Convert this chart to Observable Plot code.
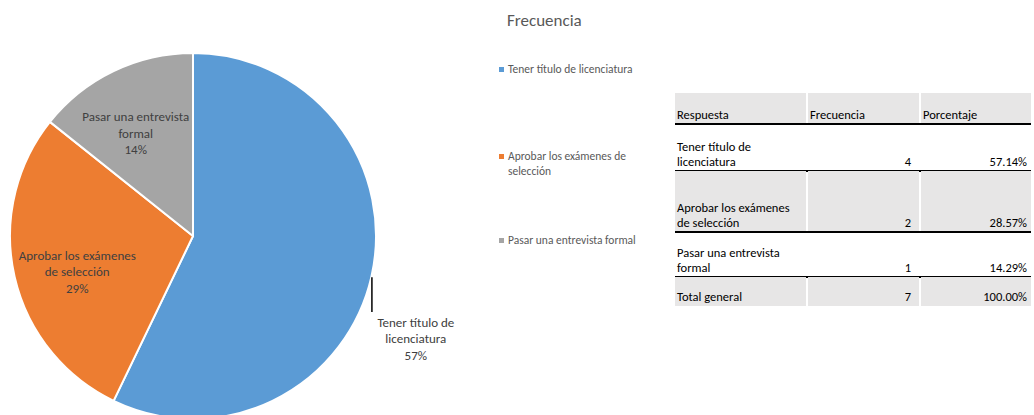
<!DOCTYPE html>
<html>
<head>
<meta charset="utf-8">
<script src="https://cdn.jsdelivr.net/npm/d3@7"></script>
<script src="https://cdn.jsdelivr.net/npm/@observablehq/plot@0.6"></script>
<style>
  body { margin: 0; background: #fff; font-family: Calibri, Carlito, Lato, sans-serif; }
  #wrap { position: relative; width: 1034px; height: 415px; overflow: hidden; background: #fff; }
  #chart { position: absolute; left: 0; top: 0; }
  #title { position: absolute; left: 507px; top: 10px; font-size: 17px; line-height: 22px; color: #595959; }
  .item { position: absolute; left: 499px; display: flex; font-size: 11.5px; line-height: 15px; color: #595959; white-space: pre; }
  .sw { width: 5px; height: 5px; margin: 5px 4px 0 0; flex: none; }
  .cell { position: absolute; box-sizing: border-box; font-size: 12.5px; line-height: 15px; color: #000;
          display: flex; flex-direction: column; justify-content: flex-end; padding-bottom: 2px; white-space: pre; }
  .gray { background: #e7e6e6; }
  .rule { position: absolute; height: 1.5px; background: #000; }
</style>
</head>
<body>
<div id="wrap">
  <div id="chart"></div>
  <div id="title"></div>
  <div id="legend"></div>
  <div id="table"></div>
</div>
<script>
// ---- data ----
const categories = ["Tener título de licenciatura", "Aprobar los exámenes de selección", "Pasar una entrevista formal"];
const frequencies = [4, 2, 1];
const colors = ["#5b9bd5", "#ed7d31", "#a5a5a5"];
const chartTitle = "Frecuencia";
const tableHeaders = ["Respuesta", "Frecuencia", "Porcentaje"];
const totalLabel = "Total general";

// ---- helpers ----
function wrap(text, maxChars) {
  const words = text.split(" ");
  const lines = [];
  let cur = "";
  for (const w of words) {
    if (cur && (cur + " " + w).length > maxChars) { lines.push(cur); cur = w; }
    else cur = cur ? cur + " " + w : w;
  }
  if (cur) lines.push(cur);
  return lines.join("\n");
}

const total = d3.sum(frequencies);
const data = categories.map((c, i) => ({category: c, value: frequencies[i], share: frequencies[i] / total, color: colors[i]}));
const arcs = d3.pie().value(d => d.value).sort(null)(data);

// label placement: inside slices except the largest, which gets an outside label with a leader
const labels = arcs.map((a, i) => {
  const mid = (a.startAngle + a.endAngle) / 2;
  const sx = Math.sin(mid), sy = Math.cos(mid);
  const pct = Math.round(a.data.share * 100) + "%";
  const text = wrap(a.data.category, 20) + "\n" + pct;
  if (i === 0) {
    const x1 = sx, y1 = sy, x2 = sx, y2 = sy - 0.19;
    return {text, x: x2 + 0.24, y: y2 - 0.02, x1, y1, x2, y2, outside: true};
  }
  const r = 0.66;
  const lm = mid - 0.05; // label angle slightly toward the slice's wider side
  return {text, x: Math.sin(lm) * r, y: Math.cos(lm) * r, outside: false};
});

function slices(index, scales) {
  const x = scales.x, y = scales.y;
  const cx = x(0), cy = y(0), r = x(1) - x(0);
  const arc = d3.arc().innerRadius(0).outerRadius(r);
  const g = d3.create("svg:g").attr("transform", `translate(${cx},${cy})`);
  g.selectAll("path").data(arcs).join("path")
    .attr("d", arc)
    .attr("fill", d => d.data.color)
    .attr("stroke", "#fff")
    .attr("stroke-width", 2)
    .attr("stroke-linejoin", "round");
  return g.node();
}

const W = 480, H = 415, CX = 193, CY = 236, R = 183;
const plot = Plot.plot({
  width: W, height: H,
  margin: 0,
  x: {domain: [-CX / R, (W - CX) / R], range: [0, W], axis: null},
  y: {domain: [-(H - CY) / R, CY / R], range: [H, 0], axis: null},
  style: {fontFamily: "Calibri, Carlito, Lato, sans-serif", background: "transparent", overflow: "visible"},
  marks: [
    slices,
    Plot.link(labels.filter(d => d.outside), {x1: "x1", y1: "y1", x2: "x2", y2: "y2", stroke: "#000", strokeWidth: 1.5}),
    Plot.text(labels.filter(d => !d.outside), {x: "x", y: "y", text: "text", lineAnchor: "middle", dy: 2, fontSize: 13, lineHeight: 1.25, fill: "#404040"}),
    Plot.text(labels.filter(d => d.outside), {x: "x", y: "y", text: "text", lineAnchor: "top", fontSize: 13, lineHeight: 1.25, fill: "#404040"})
  ]
});
document.getElementById("chart").appendChild(plot);

// ---- title & legend ----
document.getElementById("title").textContent = chartTitle;
const legendTops = [62, 149, 233];
const legend = document.getElementById("legend");
data.forEach((d, i) => {
  const it = document.createElement("div");
  it.className = "item";
  it.style.top = legendTops[i] + "px";
  const sw = document.createElement("div");
  sw.className = "sw";
  sw.style.background = d.color;
  const tx = document.createElement("div");
  tx.textContent = wrap(d.category, 28);
  it.appendChild(sw); it.appendChild(tx);
  legend.appendChild(it);
});

// ---- table ----
const fmtPct = v => (v * 100).toFixed(2) + "%";
const rows = [
  {cells: tableHeaders, gray: true, rule: true},
  ...data.map((d, i) => ({cells: [wrap(d.category, 20), String(d.value), fmtPct(d.share)], gray: i === 1, rule: true})),
  {cells: [totalLabel, String(total), fmtPct(1)], gray: true, rule: false}
];
const rowBounds = [[93, 124], [124, 171], [171, 232], [232, 277], [277, 306]];
const colBounds = [[675, 806], [808, 919], [921, 1031]];
const table = document.getElementById("table");
rows.forEach((row, r) => {
  const [t, b] = rowBounds[r];
  row.cells.forEach((txt, c) => {
    const [l, rr] = colBounds[c];
    const el = document.createElement("div");
    el.className = "cell" + (row.gray ? " gray" : "");
    el.style.left = l + "px";
    el.style.top = t + "px";
    el.style.width = (rr - l) + "px";
    el.style.height = (b - t) + "px";
    const isNum = r > 0 && c > 0;
    el.style.textAlign = isNum ? "right" : "left";
    el.style.paddingLeft = "2px";
    el.style.paddingRight = isNum ? (c === 1 ? "8px" : "4px") : "2px";
    el.textContent = txt;
    table.appendChild(el);
  });
  if (row.rule) {
    const ln = document.createElement("div");
    ln.className = "rule";
    ln.style.left = colBounds[0][0] + "px";
    ln.style.width = (colBounds[2][1] - colBounds[0][0]) + "px";
    ln.style.top = (b - 1) + "px";
    table.appendChild(ln);
  }
});
</script>
</body>
</html>
